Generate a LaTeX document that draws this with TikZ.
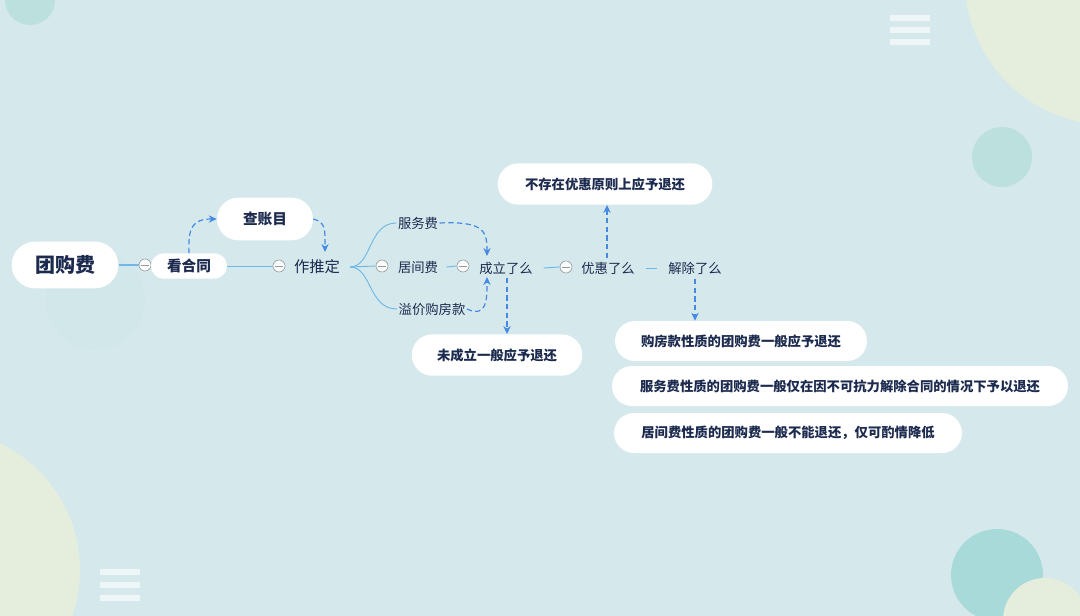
\documentclass[tikz,border=0pt]{standalone}
\usepackage{fontspec}
\setmainfont{Noto Sans CJK SC}
\usetikzlibrary{arrows.meta,shapes.misc}
\definecolor{bg}{HTML}{D5E9EC}
\definecolor{navy}{HTML}{1B2A4E}
\definecolor{lineblue}{HTML}{6FB8E6}
\definecolor{dashblue}{HTML}{4489E3}
\definecolor{paleyellow}{HTML}{E5EEDC}
\definecolor{tealc}{HTML}{BCE0DE}
\definecolor{tealdot}{HTML}{A9DADA}
\tikzset{
  box/.style={rounded rectangle, fill=white, text=navy, font=\bfseries\fontsize{10}{12}\selectfont, minimum height=31pt, inner xsep=6pt},
  plain/.style={text=navy, font=\fontsize{10}{12}\selectfont, inner sep=1pt},
  minus/.style={circle, draw=gray!80, fill=white!85!bg, line width=0.5pt, minimum size=9pt, inner sep=0pt,
    path picture={\draw[gray!80, line width=0.6pt] ([xshift=1.8pt]path picture bounding box.west) -- ([xshift=-1.8pt]path picture bounding box.east);}},
  conn/.style={lineblue, line width=0.7pt},
  dasharrow/.style={dashblue, line width=0.9pt, dash pattern=on 4pt off 2.5pt, -{Stealth[length=6pt,width=5.5pt]}},
  bar/.style={fill=white, opacity=0.6}
}
\begin{document}
\begin{tikzpicture}[x=0.75pt,y=-0.75pt]
\useasboundingbox (0,0) rectangle (1080,616);
\fill[bg] (0,0) rectangle (1080,616);
\begin{scope}
\clip (0,0) rectangle (1080,616);
\fill[tealc] (30,0) circle (25);
\fill[paleyellow] (1110,-20) circle (145);
\fill[tealc] (1002,157) circle (30);
\fill[paleyellow] (-60,570) circle (140);
\fill[tealdot] (997,575) circle (46);
\fill[paleyellow] (1045,620) circle (42);
\fill[tealc, opacity=0.12] (95,300) circle (50);
\foreach \yy in {15,27,39} \fill[bar] (890,\yy) rectangle (930,\yy+6);
\foreach \yy in {569,582,595} \fill[bar] (100,\yy) rectangle (140,\yy+6);
\end{scope}

% nodes
\node[box, font=\bfseries\fontsize{15}{18}\selectfont, minimum width=92pt, minimum height=35pt] (tgf) at (65,265) {团购费};
\node[minus] (m1) at (145,265) {};
\node[box, font=\bfseries\fontsize{11}{13}\selectfont, minimum width=63pt, minimum height=19pt, inner xsep=3pt] (khe) at (189,266) {看合同};
\node[box, font=\bfseries\fontsize{11}{13}\selectfont, minimum width=84pt, minimum height=32pt] (czm) at (265,219) {查账目};
\node[minus] (m2) at (279,266) {};
\node[plain, font=\fontsize{11.5}{14}\selectfont] (ztd) at (317,267) {作推定};
\coordinate (br) at (350,267);
\node[plain] (fwf) at (418,223) {服务费};
\node[minus] (m3) at (382,266) {};
\node[plain] (jjf) at (418,267) {居间费};
\node[plain] (yjg) at (432,309) {溢价购房款};
\node[minus] (m4) at (463,266) {};
\node[plain] (cll) at (506,268) {成立了么};
\node[minus] (m5) at (566,267) {};
\node[plain] (yhl) at (608,268) {优惠了么};
\node[plain] (jcl) at (695,268) {解除了么};
\node[box, minimum width=173pt] (bcz) at (605,184) {不存在优惠原则上应予退还};
\node[box, minimum width=140pt] (wcl) at (497,355) {未成立一般应予退还};
\node[box, minimum width=201pt, minimum height=30pt] (gfk) at (741,341) {购房款性质的团购费一般应予退还};
\node[box, minimum width=354pt, minimum height=30pt] (fwx) at (840,386) {服务费性质的团购费一般仅在因不可抗力解除合同的情况下予以退还};
\node[box, minimum width=273pt, minimum height=30pt] (jjx) at (788,433) {居间费性质的团购费一般不能退还，仅可酌情降低};

% solid connectors
\draw[conn, line width=1.6pt] (tgf.east) -- (m1.west);
\draw[conn] (khe.east) -- (m2.west);
\draw[conn] (br) .. controls (372,267) and (368,223) .. (fwf.west);
\draw[conn] (br) -- (m3.west);
\draw[conn] (br) .. controls (372,267) and (368,309) .. (yjg.west);
\draw[conn] ([xshift=5pt]jjf.east) -- (m4.west);
\draw[conn] ([xshift=7pt]cll.east) -- (m5.west);
\draw[conn] ([xshift=7pt]yhl.east) -- ([xshift=-7pt]jcl.west);

% dashed connectors
\draw[dasharrow] (khe.north) .. controls (188,228) and (192,219) .. (czm.west);
\draw[dasharrow] (czm.east) .. controls (326,222) and (325,230) .. (325,252);
\draw[dasharrow] (fwf.east) .. controls (485,221) and (487,232) .. (487,256);
\draw[dasharrow] (yjg.east) .. controls (487,318) and (487,300) .. (487,277);
\draw[dasharrow] (507,278) -- (wcl.north -| 507,0);
\draw[dasharrow] (607,258) -- (bcz.south -| 607,0);
\draw[dasharrow] (695,279) -- (gfk.north -| 695,0);
\end{tikzpicture}
\end{document}
